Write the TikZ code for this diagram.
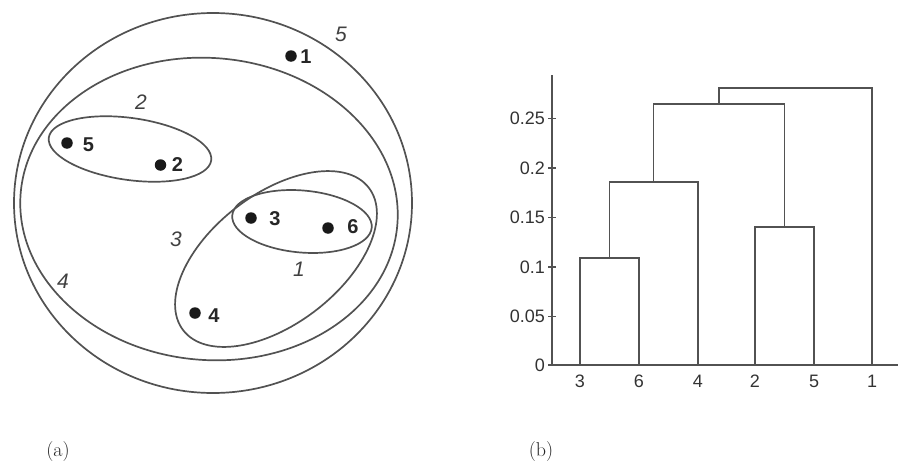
\documentclass[tikz,border=0pt]{standalone}
\usepackage{fontspec}
\newfontfamily\labfont{Liberation Sans}
\begin{document}
\begin{tikzpicture}[x=1pt,y=-1pt,
  ln/.style={line width=1.7pt, draw=black!68},
  dot/.style={circle, fill=black!90, inner sep=0pt, minimum size=11.5pt},
  pl/.style={font=\labfont\bfseries\fontsize{20}{20}\selectfont, text=black!85, inner sep=0pt},
  cl/.style={font=\labfont\itshape\fontsize{21}{21}\selectfont, text=black!75, inner sep=0pt},
  tk/.style={font=\labfont\fontsize{18}{18}\selectfont, text=black!80, anchor=east, inner sep=0pt},
  lf/.style={font=\labfont\fontsize{18}{18}\selectfont, text=black!80, inner sep=0pt},
  captext/.style={font=\fontsize{20}{20}\selectfont, text=black!85, inner sep=0pt}]
\useasboundingbox (0,0) rectangle (898,466);

% ---------- (a) nested clusters ----------
\draw[ln] (213,203) ellipse [x radius=199pt, y radius=190pt];
\draw[ln, rotate around={-5:(209,209)}] (209,209) ellipse [x radius=189pt, y radius=151pt];
\draw[ln, rotate around={37.5:(276,259)}] (276,259) ellipse [x radius=117pt, y radius=65pt];
\draw[ln, rotate around={-5:(302,221.5)}] (302,221.5) ellipse [x radius=70pt, y radius=31pt];
\draw[ln, rotate around={-8:(130,149)}] (130,149) ellipse [x radius=82pt, y radius=31pt];

\node[dot] (d1) at (291,56) {};
\node[pl]  (p1) at (306,57) {1};
\node[dot] (d5) at (67,143) {};
\node[pl]  (p5) at (88.5,145) {5};
\node[dot] (d2) at (160.5,165) {};
\node[pl]  (p2) at (177.5,165) {2};
\node[dot] (d3) at (251,218) {};
\node[pl]  (p3) at (275,219) {3};
\node[dot] (d6) at (328,228) {};
\node[pl]  (p6) at (353,227) {6};
\node[dot] (d4) at (195,313) {};
\node[pl]  (p4) at (214,316) {4};

\node[cl] (c5) at (341,34) {5};
\node[cl] (c2) at (141,102) {2};
\node[cl] (c3) at (176,239) {3};
\node[cl] (c4) at (63,281) {4};
\node[cl] (c1) at (299,269) {1};

\node[captext] (capa) at (58,452) {(a)};

% ---------- (b) dendrogram ----------
\coordinate (ayt) at (552,75);
\coordinate (ao)  at (552,365);
\coordinate (axr) at (898,365);
\draw[ln] (ayt) -- (ao) -- (axr);
\foreach \v/\t in {365/0, 316.5/0.05, 267/0.1, 217.5/0.15, 168/0.2, 118.5/0.25}{
  \draw[ln] (548,\v) -- (556,\v);
  \node[tk] at (545,\v) {\t};
}

\coordinate (l3) at (580,365);
\coordinate (l6) at (639,365);
\coordinate (l4) at (698,365);
\coordinate (l2) at (755,365);
\coordinate (l5) at (814,365);
\coordinate (l1) at (872,365);
\coordinate (m36)   at (609.5,257.7);
\coordinate (m364)  at (653.5,181.7);
\coordinate (m25)   at (784.5,226.7);
\coordinate (m3642) at (719,104.3);
\coordinate (mtop)  at (795.5,87.7);

\draw[ln] (l3) |- (m36) -| (l6);
\draw[ln] (m36) |- (m364) -| (l4);
\draw[ln] (l2) |- (m25) -| (l5);
\draw[ln] (m364) |- (m3642) -| (m25);
\draw[ln] (m3642) |- (mtop) -| (l1);

\node[lf] (n3) at (580,381.5) {3};
\node[lf] (n6) at (639,381.5) {6};
\node[lf] (n4) at (698,381.5) {4};
\node[lf] (n2) at (755,381.5) {2};
\node[lf] (n5) at (814,381.5) {5};
\node[lf] (n1) at (872,381.5) {1};

\node[captext] (capb) at (541,452) {(b)};
\end{tikzpicture}
\end{document}
